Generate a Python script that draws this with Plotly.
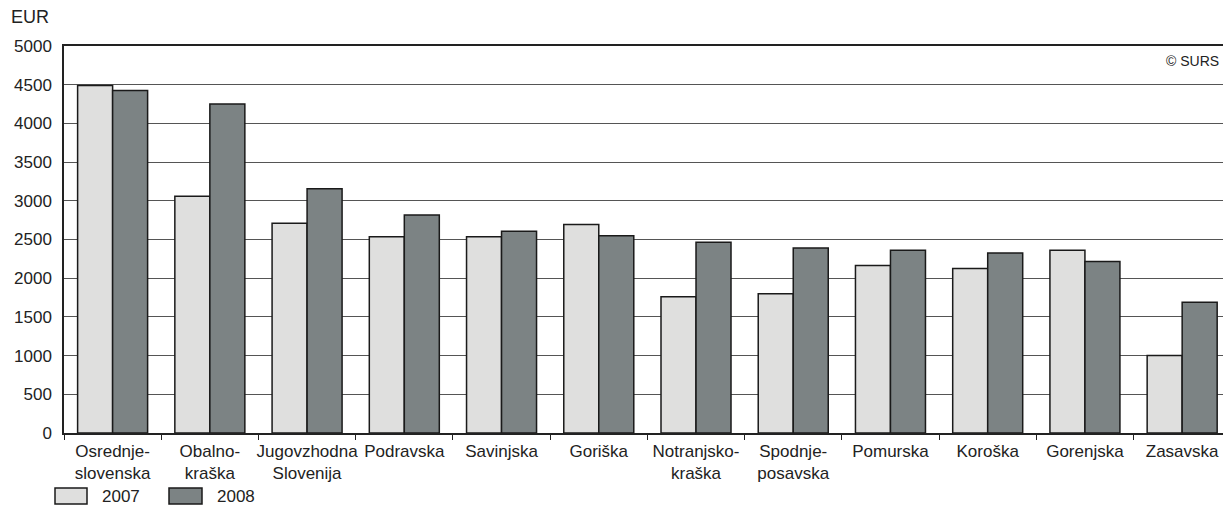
import plotly.graph_objects as go

categories = ["Osrednje-<br>slovenska", "Obalno-<br>kraška", "Jugovzhodna<br>Slovenija", "Podravska",
              "Savinjska", "Goriška", "Notranjsko-<br>kraška", "Spodnje-<br>posavska", "Pomurska",
              "Koroška", "Gorenjska", "Zasavska"]
values_2007 = [4490, 3060, 2710, 2535, 2535, 2695, 1760, 1800, 2165, 2125, 2360, 1000]
values_2008 = [4425, 4250, 3155, 2815, 2605, 2550, 2465, 2390, 2360, 2325, 2215, 1690]
series_names = ["2007", "2008"]
series_colors = ["#dfdfde", "#7c8384"]
y_ticks = [0, 500, 1000, 1500, 2000, 2500, 3000, 3500, 4000, 4500, 5000]

FONT = "Liberation Sans, Arial, sans-serif"
W, H = 1223, 506
L, R, T, B = 64, 0, 46, 73
PW, PH = W - L - R, H - T - B


def px(x):
    return (x - L) / PW


def py(y):
    return (H - B - y) / PH


fig = go.Figure()
for name, vals, col in zip(series_names, [values_2007, values_2008], series_colors):
    fig.add_trace(go.Bar(x=categories, y=vals, name=name, showlegend=False,
                         marker=dict(color=col, line=dict(color="#1a1a1a", width=1.5))))

shapes = []
annotations = [
    dict(text="EUR", xref="paper", yref="paper", x=px(9), y=py(17), xanchor="left",
         yanchor="middle", showarrow=False, font=dict(size=18)),
    dict(text="© SURS", xref="paper", yref="paper", x=px(1221), y=py(61), xanchor="right",
         yanchor="middle", showarrow=False, font=dict(size=14)),
]
# manual legend
leg = [(55, 87, 100), (169, 202, 215)]
for (x0, x1, tx), name, col in zip(leg, series_names, series_colors):
    shapes.append(dict(type="rect", xref="paper", yref="paper", x0=px(x0), x1=px(x1),
                       y0=py(488), y1=py(504), fillcolor=col,
                       line=dict(color="#1a1a1a", width=1.5)))
    annotations.append(dict(text=name, xref="paper", yref="paper", x=px(tx), y=py(497),
                            xanchor="left", yanchor="middle", showarrow=False,
                            font=dict(size=17)))

fig.update_layout(
    width=W, height=H,
    margin=dict(l=L, r=R, t=T, b=B, autoexpand=False),
    paper_bgcolor="white", plot_bgcolor="white",
    font=dict(family=FONT, size=17, color="#222"),
    barmode="group", bargap=0.28, bargroupgap=0,
    showlegend=False,
    xaxis=dict(type="category", range=[-0.5, 11.42], automargin=False,
               showline=True, linecolor="#222", linewidth=1.5,
               mirror=True, ticks="outside", tickson="boundaries", ticklen=5,
               tickcolor="#222", showgrid=False, tickangle=0, ticklabelstandoff=2,
               tickfont=dict(size=17)),
    yaxis=dict(range=[0, 5000], tickvals=y_ticks, automargin=False, showline=True,
               linecolor="#222", linewidth=1.5, showgrid=True, gridcolor="#555",
               gridwidth=1, ticks="", ticklabelstandoff=7, tickfont=dict(size=17),
               zeroline=False),
    shapes=shapes,
    annotations=annotations,
)

fig.write_html("out.html", config={"displayModeBar": False},
               post_script="document.body.style.margin='0';document.body.style.overflow='hidden';")
